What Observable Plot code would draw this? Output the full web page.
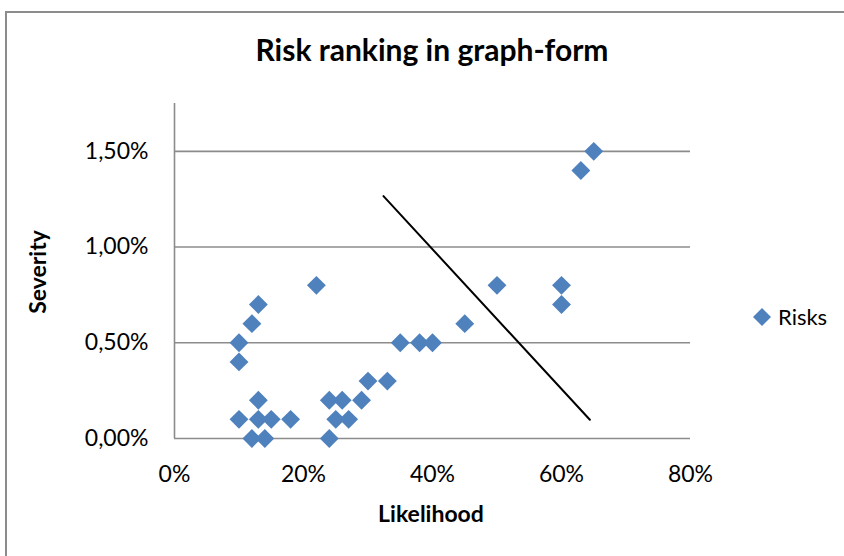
<!DOCTYPE html>
<html>
<head>
<meta charset="utf-8">
<script src="https://cdn.jsdelivr.net/npm/d3@7"></script>
<script src="https://cdn.jsdelivr.net/npm/@observablehq/plot@0.6"></script>
<style>
  html, body { margin: 0; padding: 0; background: #fff; overflow: hidden; }
  #wrap { position: relative; width: 844px; height: 556px; overflow: hidden; font-family: Lato, "Open Sans", sans-serif; color: #000; }
  #frame { position: absolute; left: 5px; top: 11px; width: 1000px; height: 1000px; border: 2px solid #8c8c8c; box-sizing: border-box; }
  #chart { position: absolute; left: 0; top: 0; }
  .lbl { position: absolute; white-space: nowrap; }
  #title { left: 0; width: 864px; top: 31px; text-align: center; font-weight: bold; font-size: 30px; }
  #xlabel { left: 0; width: 862px; top: 499px; text-align: center; font-weight: bold; font-size: 23px; }
  #ylabel { left: 37px; top: 272px; font-weight: bold; font-size: 23px; transform: translate(-50%, -50%) rotate(-90deg); }
  #legend { left: 752px; top: 303px; font-size: 22px; display: flex; align-items: center; }
  #legend svg { margin-right: 6px; }
</style>
</head>
<body>
<div id="wrap">
  <div id="frame"></div>
  <div id="chart"></div>
  <div class="lbl" id="title">Risk ranking in graph-form</div>
  <div class="lbl" id="xlabel">Likelihood</div>
  <div class="lbl" id="ylabel">Severity</div>
  <div class="lbl" id="legend"><svg width="20" height="20" viewBox="-10 -10 20 20"><path d="M0,-9L9,0L0,9L-9,0Z" fill="#4F81BD"/></svg><span>Risks</span></div>
</div>
<script>
// Likelihood (%) and severity (%) of each risk
const likelihood = [10, 10, 10, 12, 12, 13, 13, 13, 14, 15, 18, 22, 24, 24, 25, 26, 27, 29, 30, 33, 35, 38, 40, 45, 50, 60, 60, 63, 65];
const severity   = [0.5, 0.4, 0.1, 0.6, 0.0, 0.7, 0.2, 0.1, 0.0, 0.1, 0.1, 0.8, 0.2, 0.0, 0.1, 0.2, 0.1, 0.2, 0.3, 0.3, 0.5, 0.5, 0.5, 0.6, 0.8, 0.8, 0.7, 1.4, 1.5];
// Dividing line
const lineLikelihood = [32.4, 64.4];
const lineSeverity   = [1.266, 0.098];
// Ticks
const xTicks = [0, 20, 40, 60, 80];
const yTicks = [0, 0.5, 1.0, 1.5];
const seriesName = "Risks";

const points = likelihood.map((x, i) => ({x, y: severity[i], s: seriesName}));
const divider = lineLikelihood.map((x, i) => ({x, y: lineSeverity[i]}));

const chart = Plot.plot({
  width: 844,
  height: 556,
  marginLeft: 174,
  marginRight: 154,
  marginTop: 103,
  marginBottom: 118,
  style: { fontFamily: "Lato, 'Open Sans', sans-serif", fontSize: "23px", color: "#000", background: "transparent", overflow: "visible" },
  x: { domain: [0, 80] },
  y: { domain: [0, 1.75] },
  marks: [
    Plot.ruleY(yTicks, { x1: 0, x2: 80, stroke: "#8c8c8c", strokeWidth: 1.6 }),
    Plot.ruleX([0], { y1: 0, y2: 1.75, stroke: "#8c8c8c", strokeWidth: 1.6 }),
    Plot.axisX({ ticks: xTicks, tickSize: 0, tickPadding: 27, tickFormat: d => d + "%", label: null, fill: "#000" }),
    Plot.axisY({ ticks: yTicks, tickSize: 0, tickPadding: 26, tickFormat: d => d.toFixed(2).replace(".", ",") + "%", label: null, fill: "#000" }),
    Plot.line(divider, { x: "x", y: "y", stroke: "#000", strokeWidth: 2 }),
    Plot.dot(points, { x: "x", y: "y", symbol: "diamond2", r: 8.5, fill: "#4F81BD", stroke: null })
  ]
});
document.getElementById("chart").appendChild(chart);
</script>
</body>
</html>
